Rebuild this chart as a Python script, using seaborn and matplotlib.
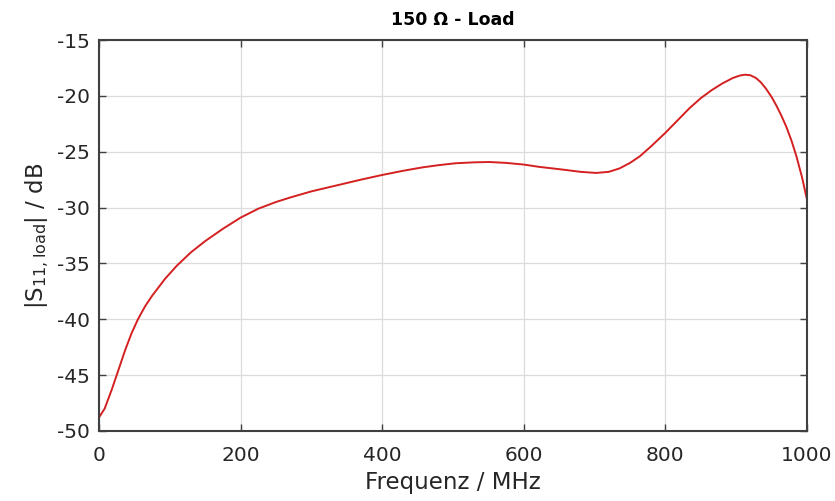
import matplotlib
matplotlib.use("Agg")
import matplotlib.pyplot as plt
import seaborn as sns
import pandas as pd

freq_mhz = [0, 8, 18, 25, 37, 46, 55, 65, 75, 93, 110, 130, 150, 175, 200,
            225, 250, 270, 300, 340, 370, 400, 430, 457, 480, 504, 530, 551,
            575, 600, 621, 655, 680, 702, 720, 735, 750, 764, 780, 800, 817,
            834, 850, 865, 880, 895, 905, 912, 920, 928, 935, 942, 950, 957,
            964, 971, 978, 985, 993, 1000]
s11_db = [-48.8, -48.0, -46.3, -45.0, -42.75, -41.25, -40.0, -38.85, -37.9, -36.4,
          -35.2, -34.0, -33.0, -31.9, -30.9, -30.1, -29.5, -29.1, -28.55,
          -27.95, -27.5, -27.08, -26.7, -26.4, -26.2, -26.03, -25.95, -25.92,
          -26.0, -26.15, -26.35, -26.6, -26.8, -26.9, -26.8, -26.5, -26.0,
          -25.4, -24.5, -23.3, -22.2, -21.1, -20.2, -19.5, -18.9, -18.4,
          -18.18, -18.1, -18.15, -18.4, -18.8, -19.35, -20.1, -20.9, -21.8,
          -22.8, -24.0, -25.4, -27.3, -29.3]
x_ticks = [0, 200, 400, 600, 800, 1000]
y_ticks = [-50, -45, -40, -35, -30, -25, -20, -15]

df = pd.DataFrame({"f": freq_mhz, "s": s11_db})

sns.set_theme(style="white")
plt.rcParams["font.family"] = ["DejaVu Sans"]
plt.rcParams["axes.unicode_minus"] = False
plt.rcParams["mathtext.fontset"] = "dejavusans"

fig = plt.figure(figsize=(8.35, 5.01), dpi=100)
ax = fig.add_axes([0.1186, 0.140, 0.8479, 0.780])

sns.lineplot(data=df, x="f", y="s", ax=ax, color="#d42020", linewidth=1.4)

ax.set_xlim(0, 1000)
ax.set_ylim(-50, -15)
ax.set_xticks(x_ticks)
ax.set_yticks(y_ticks)
ax.grid(True, color="#dcdcdc", linewidth=0.9)
ax.set_axisbelow(True)
for s in ax.spines.values():
    s.set_visible(True)
    s.set_color("#404040")
    s.set_linewidth(1.5)
ax.tick_params(axis="both", direction="in", length=5, width=1.0, color="#404040",
               labelsize=14.5, labelcolor="#262626", top=True, right=True,
               bottom=True, left=True)
ax.tick_params(axis="x", pad=11)
ax.tick_params(axis="y", pad=6.5)

ax.set_xlabel("Frequenz / MHz", fontsize=16.5, color="#262626", labelpad=4)
ax.set_ylabel(r"|S$_{11,\mathrm{load}}$| / dB", fontsize=16.5, color="#262626", labelpad=4)
ax.set_title("150 Ω - Load", fontsize=12.5, fontweight="bold", color="black", pad=11)

fig.savefig("out.png", dpi=100, facecolor="white")
